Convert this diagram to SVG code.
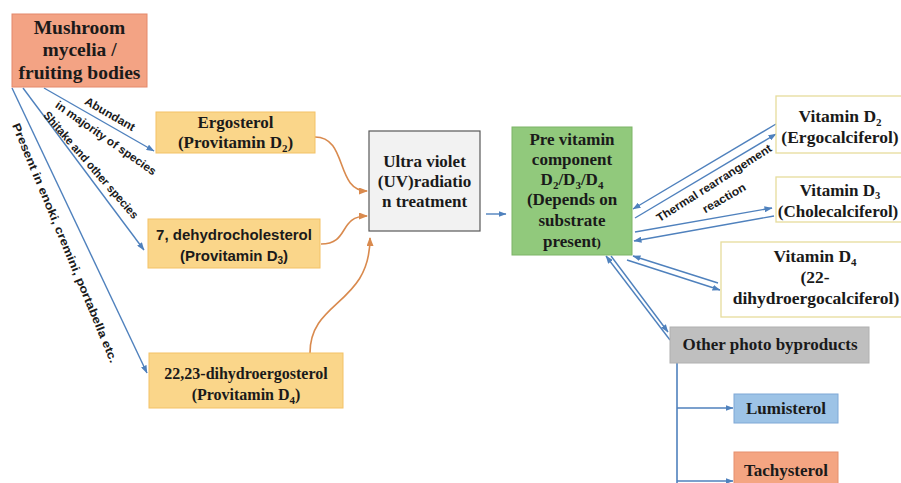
<svg xmlns="http://www.w3.org/2000/svg" width="901" height="483" viewBox="0 0 901 483">
<defs>
<style>
.tb{font-family:"Liberation Serif","Times New Roman",serif;font-weight:bold;fill:#1a1a1a;text-anchor:middle}
.sb{font-family:"Liberation Sans",Arial,sans-serif;font-weight:bold;fill:#1a1a1a;text-anchor:middle}
.lbl{font-family:"Liberation Sans",Arial,sans-serif;font-weight:bold;fill:#1a1a1a;text-anchor:middle;font-size:11.5px}
.blue{stroke:#4F81BD;stroke-width:1.4;fill:none;marker-end:url(#ab)}
.org{stroke:#D98A4E;stroke-width:1.6;fill:none;marker-end:url(#ao)}
.yel{fill:#FAD68A;stroke:#F3C266;stroke-width:1}
.vit{fill:#FFFFFF;stroke:#E6DC9C;stroke-width:1.3}
</style>
<marker id="ab" markerWidth="8" markerHeight="6" refX="7.5" refY="3" orient="auto" markerUnits="userSpaceOnUse"><path d="M0,0 L8,3 L0,6 z" fill="#4F81BD"/></marker>
<marker id="ao" markerWidth="9" markerHeight="7" refX="8" refY="3.5" orient="auto" markerUnits="userSpaceOnUse"><path d="M0,0 L9,3.5 L0,7 z" fill="#D98A4E"/></marker>
</defs>
<rect width="901" height="483" fill="#FFFFFF"/>

<g id="connectors">
<line class="blue" x1="44" y1="88" x2="154" y2="151"/>
<line class="blue" x1="23" y1="88" x2="144" y2="250"/>
<line class="blue" x1="12" y1="88" x2="147" y2="373"/>
<path class="org" d="M315,137 C348,137 335,191 367,191"/>
<path class="org" d="M321,244 C350,244 338,216 367,216"/>
<path class="org" d="M310,353 C310,300 370,305 370,238"/>
<line class="blue" x1="486" y1="214" x2="506" y2="214"/>
<line class="blue" x1="776" y1="124" x2="633" y2="209"/>
<line class="blue" x1="635" y1="218" x2="776" y2="134"/>
<line class="blue" x1="635" y1="232" x2="772" y2="208"/>
<line class="blue" x1="774" y1="216" x2="634" y2="241"/>
<line class="blue" x1="718" y1="283" x2="633" y2="256"/>
<line class="blue" x1="627" y1="260" x2="720" y2="290"/>
<line class="blue" x1="670" y1="340" x2="606" y2="256"/>
<line class="blue" x1="611" y1="256" x2="668" y2="332"/>
<line x1="677" y1="363" x2="677" y2="483" stroke="#4F81BD" stroke-width="1.6"/>
<line class="blue" x1="677" y1="408" x2="733" y2="408"/>
<line class="blue" x1="677" y1="481" x2="733" y2="481"/>
</g>

<g id="labels">
<text class="lbl" transform="translate(110,114) rotate(30)" y="4" font-size="12" textLength="56" lengthAdjust="spacingAndGlyphs">Abundant</text>
<text class="lbl" transform="translate(106,138) rotate(35)" y="4" textLength="120" lengthAdjust="spacingAndGlyphs">in majority of species</text>
<text class="lbl" transform="translate(91,165) rotate(49)" y="4" textLength="138" lengthAdjust="spacingAndGlyphs">Shitake and other species</text>
<text class="lbl" transform="translate(65,243) rotate(67.5)" y="4" textLength="258" lengthAdjust="spacingAndGlyphs">Present in enoki, cremini, portabella etc.</text>
<text class="lbl" transform="translate(714,183) rotate(-32.4)" y="4" textLength="134" lengthAdjust="spacingAndGlyphs">Thermal rearrangement</text>
<text class="lbl" transform="translate(724,198) rotate(-30)" y="4" textLength="48" lengthAdjust="spacingAndGlyphs">reaction</text>
</g>

<g id="mushroom">
<rect x="12" y="14" width="135" height="73" fill="#F3A384" stroke="#E4886A" stroke-width="1"/>
<text class="tb" font-size="19.5" x="79.5"><tspan x="79.5" y="34">Mushroom</tspan><tspan x="79.5" y="56">mycelia /</tspan><tspan x="79.5" y="79">fruiting bodies</tspan></text>
</g>

<g id="ergosterol">
<rect class="yel" x="156" y="112" width="159" height="41"/>
<text class="tb" font-size="17" x="235.5"><tspan x="235.5" y="128">Ergosterol</tspan><tspan x="235.5" y="148">(Provitamin D<tspan dy="4" font-size="11">2</tspan><tspan dy="-4">)</tspan></tspan></text>
</g>

<g id="dehydrocholesterol">
<rect class="yel" x="148" y="219" width="172" height="49"/>
<text class="sb" font-size="15" x="234"><tspan x="234" y="240">7, dehydrocholesterol</tspan><tspan x="234" y="261">(Provitamin D<tspan dy="3" font-size="10">3</tspan><tspan dy="-3">)</tspan></tspan></text>
</g>

<g id="dihydroergosterol">
<rect class="yel" x="149" y="353" width="194" height="55"/>
<text class="tb" font-size="16" x="246"><tspan x="246" y="379">22,23-dihydroergosterol</tspan><tspan x="246" y="400">(Provitamin D<tspan dy="4" font-size="11">4</tspan><tspan dy="-4">)</tspan></tspan></text>
</g>

<g id="uv">
<rect x="369" y="131" width="111" height="100" fill="#F2F2F2" stroke="#595959" stroke-width="1.2"/>
<text class="tb" font-size="17" x="424.5"><tspan x="424.5" y="167">Ultra violet</tspan><tspan x="424.5" y="187">(UV)radiatio</tspan><tspan x="424.5" y="207">n treatment</tspan></text>
</g>

<g id="previtamin">
<rect x="512" y="127" width="120" height="128" fill="#91C97C" stroke="#7DB466" stroke-width="1"/>
<text class="tb" font-size="17" x="572"><tspan x="572" y="145">Pre vitamin</tspan><tspan x="572" y="165">component</tspan><tspan x="572" y="185">D<tspan dy="4" font-size="11">2</tspan><tspan dy="-4">/D</tspan><tspan dy="4" font-size="11">3</tspan><tspan dy="-4">/D</tspan><tspan dy="4" font-size="11">4</tspan></tspan><tspan x="572" y="205">(Depends on</tspan><tspan x="572" y="226">substrate</tspan><tspan x="572" y="247">present<tspan font-size="13">)</tspan></tspan></text>
</g>

<g id="vitd2">
<rect class="vit" x="776" y="96" width="135" height="57"/>
<text class="tb" font-size="17.5" x="840"><tspan x="840" y="122">Vitamin D<tspan dy="4" font-size="11">2</tspan></tspan><tspan x="840" y="143">(Ergocalciferol)</tspan></text>
</g>

<g id="vitd3">
<rect class="vit" x="776" y="177" width="135" height="45"/>
<text class="tb" font-size="17" x="838"><tspan x="840" y="196">Vitamin D<tspan dy="3" font-size="10.5">3</tspan></tspan><tspan x="838" y="217">(Cholecalciferol)</tspan></text>
</g>

<g id="vitd4">
<rect class="vit" x="721" y="242" width="195" height="75"/>
<text class="tb" font-size="17.5" x="815"><tspan x="815" y="262">Vitamin D<tspan dy="4" font-size="11">4</tspan></tspan><tspan x="815" y="283">(22-</tspan><tspan x="816" y="304">dihydroergocalciferol)</tspan></text>
</g>

<g id="byproducts">
<rect x="670" y="327" width="199" height="36" fill="#BFBFBF" stroke="#B0B0B0" stroke-width="1"/>
<text class="tb" font-size="17" x="770" y="350">Other photo byproducts</text>
</g>

<g id="lumisterol">
<rect x="734" y="394" width="104" height="29" fill="#9DC3E6" stroke="#7FA8D6" stroke-width="1"/>
<text class="tb" font-size="17" x="786" y="414">Lumisterol</text>
</g>

<g id="tachysterol">
<rect x="734" y="452" width="104" height="40" fill="#F4A582" stroke="#E5906E" stroke-width="1"/>
<text class="tb" font-size="17" x="786" y="476">Tachysterol</text>
</g>
</svg>
